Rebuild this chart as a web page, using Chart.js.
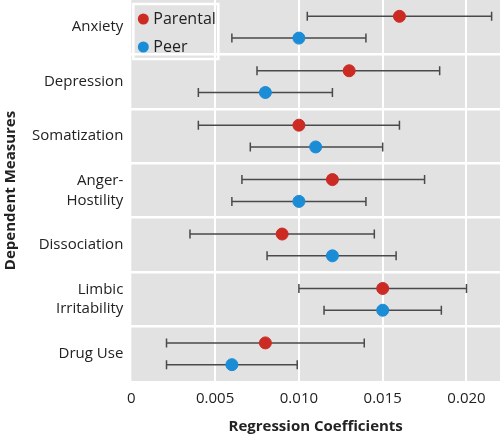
<!DOCTYPE html>
<html lang="en">
<head>
  <meta charset="UTF-8">
  <title>Regression Coefficients</title>
  <script src="https://cdn.jsdelivr.net/npm/chart.js"></script>
  <style>
    body { margin: 0; background: #fff; }
    #wrap { width: 500px; height: 436px; }
  </style>
</head>
<body>
  <div id="wrap"><canvas id="grafico"></canvas></div>
  <script>
    // dados
    const categorias = ['Anxiety', 'Depression', 'Somatization', ['Anger-', 'Hostility'], 'Dissociation', ['Limbic', 'Irritability'], 'Drug Use'];
    const parentalCoef = [0.016, 0.013, 0.010, 0.012, 0.009, 0.015, 0.008];
    const parentalLow  = [0.0105, 0.0075, 0.004, 0.0066, 0.0035, 0.010, 0.0021];
    const parentalHigh = [0.0215, 0.0184, 0.016, 0.0175, 0.0145, 0.020, 0.0139];
    const peerCoef = [0.010, 0.008, 0.011, 0.010, 0.012, 0.015, 0.006];
    const peerLow  = [0.006, 0.004, 0.0071, 0.006, 0.0081, 0.0115, 0.0021];
    const peerHigh = [0.014, 0.012, 0.015, 0.014, 0.0158, 0.0185, 0.0099];
    const xTicks = [0, 0.005, 0.010, 0.015, 0.020];
    const xTickLabels = ['0', '0.005', '0.010', '0.015', '0.020'];

    const corParental = '#cc2b24';
    const corPeer = '#1b8cd6';
    const deslocamento = 0.2;

    const pontosParental = parentalCoef.map((v, i) => ({ x: v, y: i + 0.5 - deslocamento, lo: parentalLow[i], hi: parentalHigh[i] }));
    const pontosPeer = peerCoef.map((v, i) => ({ x: v, y: i + 0.5 + deslocamento, lo: peerLow[i], hi: peerHigh[i] }));

    // fundo cinza da área do gráfico
    const fundo = {
      id: 'fundo',
      beforeDraw(chart) {
        const a = chart.chartArea, ctx = chart.ctx;
        ctx.save();
        ctx.fillStyle = '#e2e2e3';
        ctx.fillRect(a.left, a.top, a.right - a.left, a.bottom - a.top);
        ctx.restore();
      }
    };

    // barras de erro
    const barrasErro = {
      id: 'barrasErro',
      beforeDatasetsDraw(chart) {
        const ctx = chart.ctx, xs = chart.scales.x, ys = chart.scales.y;
        ctx.save();
        ctx.strokeStyle = '#4a4a4a';
        ctx.lineWidth = 1.5;
        chart.data.datasets.forEach(ds => {
          ds.data.forEach(p => {
            const x1 = xs.getPixelForValue(p.lo), x2 = xs.getPixelForValue(p.hi);
            const y = ys.getPixelForValue(p.y);
            ctx.beginPath();
            ctx.moveTo(x1, y); ctx.lineTo(x2, y);
            ctx.moveTo(x1, y - 4.5); ctx.lineTo(x1, y + 4.5);
            ctx.moveTo(x2, y - 4.5); ctx.lineTo(x2, y + 4.5);
            ctx.stroke();
          });
        });
        ctx.restore();
      }
    };

    // legenda dentro do gráfico
    const legenda = {
      id: 'legenda',
      afterDraw(chart) {
        const ctx = chart.ctx, a = chart.chartArea;
        const x0 = a.left + 2, y0 = a.top + 4;
        ctx.save();
        ctx.strokeStyle = '#ffffff';
        ctx.lineWidth = 2.5;
        ctx.strokeRect(x0, y0, 85, 55);
        ctx.font = '16px "Open Sans", sans-serif';
        ctx.textBaseline = 'middle';
        ctx.fillStyle = '#222';
        [[corParental, 'Parental', 15], [corPeer, 'Peer', 43]].forEach(([cor, txt, dy]) => {
          ctx.beginPath();
          ctx.fillStyle = cor;
          ctx.arc(x0 + 10, y0 + dy, 5.5, 0, Math.PI * 2);
          ctx.fill();
          ctx.fillStyle = '#222';
          ctx.fillText(txt, x0 + 20, y0 + dy);
        });
        ctx.restore();
      }
    };

    new Chart(document.getElementById('grafico'), {
      type: 'scatter',
      data: {
        datasets: [
          { label: 'Parental', data: pontosParental, backgroundColor: corParental, borderColor: corParental, pointRadius: 6, pointHoverRadius: 6 },
          { label: 'Peer', data: pontosPeer, backgroundColor: corPeer, borderColor: corPeer, pointRadius: 6, pointHoverRadius: 6 }
        ]
      },
      options: {
        responsive: true,
        maintainAspectRatio: false,
        animation: false,
        layout: { autoPadding: false, padding: { top: 0, right: 0, left: 2, bottom: 0 } },
        plugins: { legend: { display: false }, tooltip: { enabled: false } },
        scales: {
          x: {
            type: 'linear',
            min: 0,
            max: 0.022,
            afterBuildTicks: axis => { axis.ticks = xTicks.map(v => ({ value: v })); },
            afterFit: s => { s.paddingLeft = 0; s.paddingRight = 0; },
            ticks: {
              color: '#222',
              autoSkip: false,
              maxRotation: 0,
              font: { family: '"Open Sans", sans-serif', size: 15 },
              padding: 9,
              callback: (v, i) => xTickLabels[i]
            },
            grid: {
              color: ctx => ctx.tick && ctx.tick.value > 0 ? '#ffffff' : 'rgba(0,0,0,0)',
              lineWidth: 2,
              drawTicks: false
            },
            border: { display: false },
            title: {
              display: true,
              text: 'Regression Coefficients',
              color: '#222',
              font: { family: '"Open Sans", sans-serif', size: 15, weight: 'bold' },
              padding: { top: 1, bottom: 0 }
            }
          },
          y: {
            type: 'linear',
            min: 0,
            max: 7,
            reverse: true,
            afterBuildTicks: axis => {
              const t = [];
              for (let v = 0; v <= 7; v += 0.5) t.push({ value: v });
              axis.ticks = t;
            },
            afterFit: s => { s.paddingTop = 0; s.paddingBottom = 0; },
            ticks: {
              color: '#222',
              autoSkip: false,
              font: { family: '"Open Sans", sans-serif', size: 15, lineHeight: 1.3 },
              padding: 8,
              callback: v => (v % 1 === 0.5 ? categorias[Math.floor(v)] : '')
            },
            grid: {
              color: ctx => ctx.tick && ctx.tick.value % 1 === 0 && ctx.tick.value > 0 && ctx.tick.value < 7 ? '#ffffff' : 'rgba(0,0,0,0)',
              lineWidth: 2.5,
              drawTicks: false
            },
            border: { display: false },
            title: {
              display: true,
              text: 'Dependent Measures',
              color: '#222',
              font: { family: '"Open Sans", sans-serif', size: 15, weight: 'bold' },
              padding: { top: 0, bottom: 4 }
            }
          }
        }
      },
      plugins: [fundo, barrasErro, legenda]
    });
  </script>
</body>
</html>
